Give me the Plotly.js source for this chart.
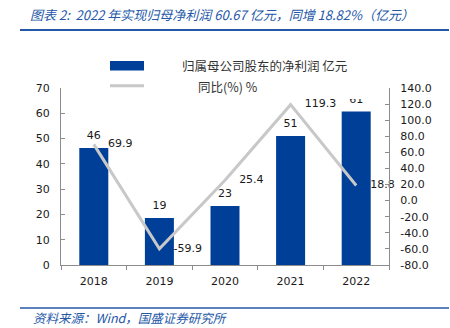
<!DOCTYPE html>
<html>
<head>
<meta charset="utf-8">
<script src="https://cdn.plot.ly/plotly-3.0.1.min.js"></script>
<style>
html,body{margin:0;padding:0;background:#fff;}
#chart{width:450px;height:328px;}
</style>
</head>
<body>
<div id="chart"></div>
<script>
// ---- data ----
const years = ['2018', '2019', '2020', '2021', '2022'];
const profit = [46.3, 18.57, 23.29, 51.06, 60.67];      // 归属母公司股东的净利润 亿元
const yoy = [69.9, -59.9, 25.4, 119.3, 18.8];            // 同比(%)
const leftTicks = [0, 10, 20, 30, 40, 50, 60, 70];
const rightTickVals = [-80, -60, -40, -20, 0, 20, 40, 60, 80, 100, 120, 140];
const rightTickText = ['-80.0', '-60.0', '-40.0', '-20.0', '0.0', '20.0', '40.0', '60.0', '80.0', '100.0', '120.0', '140.0'];
const barName = '归属母公司股东的净利润 亿元';
const lineName = '同比(%) %';
const titleText = '图表 2:  2022 年实现归母净利润 60.67 亿元，同增 18.82%（亿元）';
const sourceText = '资料来源：Wind，国盛证券研究所';

// ---- style ----
const FONT = '"DejaVu Sans", "Noto Sans CJK SC", sans-serif';
const CJK = '"Noto Sans CJK SC", "DejaVu Sans", sans-serif';
const BAR_COLOR = '#003f98';
const LINE_COLOR = '#c8c8c8';
const AXIS_COLOR = '#8c8c8c';
const TEXT_COLOR = '#1a1a1a';
const BLUE = '#2357a8';

const W = 450, H = 328;
const M = {l: 61, r: 61, t: 88, b: 63};
const pw = W - M.l - M.r, ph = H - M.t - M.b;
const px = x => (x - M.l) / pw;
const py = y => (H - M.b - y) / ph;

const traces = [
  {
    type: 'bar', name: barName, x: years, y: profit,
    marker: {color: BAR_COLOR}, showlegend: false, hoverinfo: 'x+y'
  },
  {
    type: 'scatter', mode: 'markers+text', name: barName + ' 标签', x: years, y: profit,
    text: profit.map(v => String(Math.round(v))),
    textposition: 'top center', cliponaxis: false,
    textfont: {family: FONT, size: 11, color: TEXT_COLOR},
    marker: {size: 8, color: 'rgba(0,0,0,0)'}, showlegend: false, hoverinfo: 'skip'
  },
  {
    type: 'scatter', mode: 'lines+markers+text', name: lineName, x: years, y: yoy, yaxis: 'y2',
    text: yoy.map(v => v.toFixed(1)),
    textposition: 'middle right', cliponaxis: false,
    textfont: {family: FONT, size: 11, color: TEXT_COLOR},
    line: {color: LINE_COLOR, width: 3},
    marker: {size: 21, color: 'rgba(0,0,0,0)'}, showlegend: false
  }
];

const axisCommon = {
  showline: true, linecolor: AXIS_COLOR, linewidth: 1,
  showgrid: false, zeroline: false,
  tickcolor: AXIS_COLOR, ticklen: 4, tickwidth: 1,
  tickfont: {family: FONT, size: 11, color: TEXT_COLOR}
};

const layout = {
  width: W, height: H,
  margin: M,
  paper_bgcolor: '#fff', plot_bgcolor: '#fff',
  bargap: 0.558,
  showlegend: false,
  title: {
    text: titleText, xref: 'container', yref: 'container',
    x: 30 / W, xanchor: 'left', y: 1 - 15 / H, yanchor: 'middle',
    font: {family: CJK, size: 13, color: BLUE, style: 'italic'}
  },
  xaxis: Object.assign({}, axisCommon, {
    type: 'category', ticks: 'outside', tickson: 'boundaries', ticklabelstandoff: 6
  }),
  yaxis: Object.assign({}, axisCommon, {
    range: [0, 70], tickvals: leftTicks, ticks: 'inside', ticklabelstandoff: 8
  }),
  yaxis2: Object.assign({}, axisCommon, {
    overlaying: 'y', side: 'right', range: [-80, 140],
    tickvals: rightTickVals, ticktext: rightTickText, ticks: 'inside', ticklabelstandoff: 8
  }),
  shapes: [
    // header & footer rules
    {type: 'line', xref: 'paper', yref: 'paper', x0: px(20), x1: px(449), y0: py(30), y1: py(30),
     line: {color: BLUE, width: 2}},
    {type: 'line', xref: 'paper', yref: 'paper', x0: px(20), x1: px(449), y0: py(308), y1: py(308),
     line: {color: BLUE, width: 1.5}},
    // legend box background
    {type: 'rect', xref: 'paper', yref: 'paper', layer: 'above', x0: px(102), x1: px(372), y0: py(99), y1: py(52),
     fillcolor: '#fff', line: {width: 0}},
    // legend swatches
    {type: 'rect', xref: 'paper', yref: 'paper', layer: 'above', x0: px(110), x1: px(144), y0: py(70.5), y1: py(61),
     fillcolor: BAR_COLOR, line: {width: 0}},
    {type: 'line', xref: 'paper', yref: 'paper', layer: 'above', x0: px(110), x1: px(144), y0: py(85.7), y1: py(85.7),
     line: {color: LINE_COLOR, width: 3}}
  ],
  annotations: [
    {text: barName, xref: 'paper', yref: 'paper', x: px(180), y: py(65.5), xanchor: 'left', yanchor: 'middle',
     showarrow: false, font: {family: CJK, size: 12.5, color: '#333'}},
    {text: lineName, xref: 'paper', yref: 'paper', x: px(196), y: py(86), xanchor: 'left', yanchor: 'middle',
     showarrow: false, font: {family: CJK, size: 12.5, color: '#333'}},
    {text: sourceText, xref: 'paper', yref: 'paper', x: px(31), y: py(317.5), xanchor: 'left', yanchor: 'middle',
     showarrow: false, font: {family: CJK, size: 12.5, color: BLUE, style: 'italic'}}
  ]
};

Plotly.newPlot('chart', traces, layout, {staticPlot: true, displayModeBar: false});
</script>
</body>
</html>
